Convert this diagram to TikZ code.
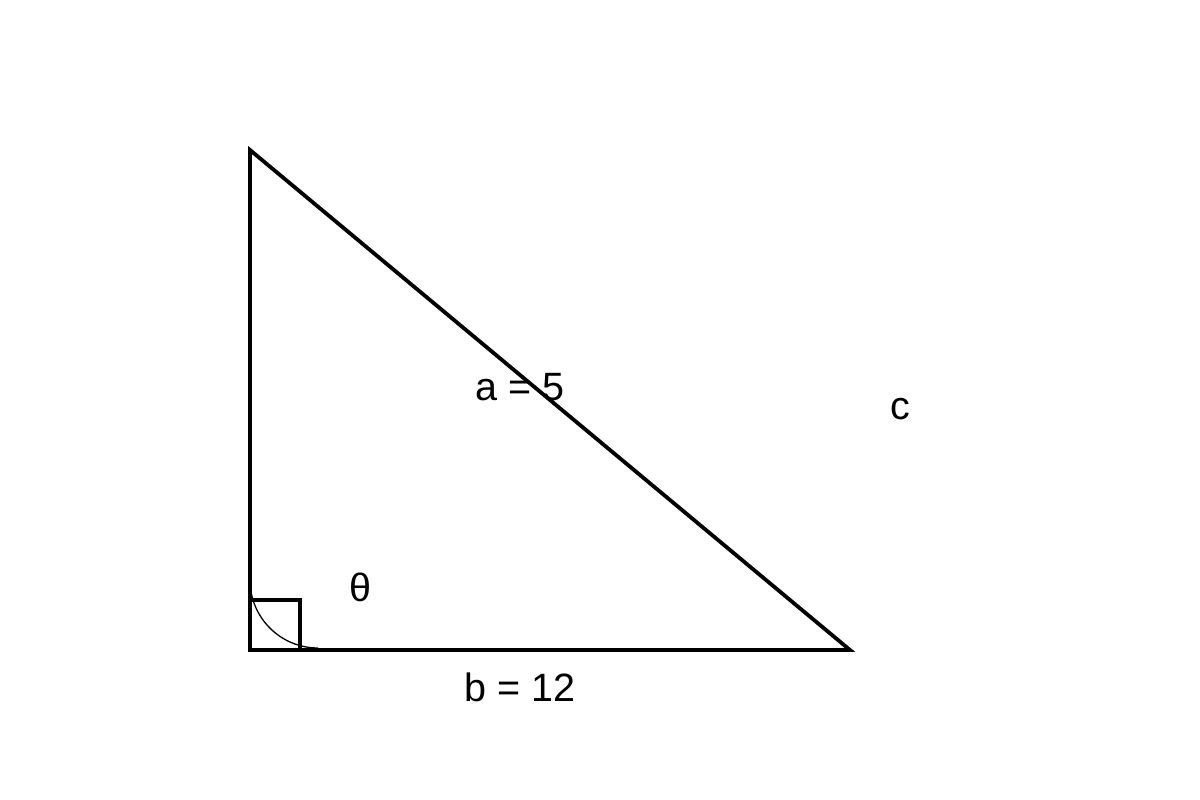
\documentclass[tikz,border=0pt]{standalone}
\usepackage{fontspec}
\setmainfont{Liberation Sans}
\usetikzlibrary{positioning}

\begin{document}
\begin{tikzpicture}[x=1pt,y=-1pt,line width=3.8pt,
   side label/.style={font=\fontsize{39.5}{47}\selectfont,inner sep=0pt}]
   \useasboundingbox (0,0) rectangle (1200,800);
   \coordinate (top)    at (250,150);
   \coordinate (corner) at (250,650);
   \coordinate (right)  at (850,650);
   \draw (top) -- (corner) -- (right) -- cycle;
   % right angle mark and angle arc
   \draw (corner) rectangle ++(50,-50);
   \draw[line width=1.3pt] (corner) ++(0,-70) arc[start angle=180,end angle=270,radius=68pt];
   \node[side label] (a_side)  at (520,387) {a = 5};
   \node[side label] (b_side)  at (520,687) {b = 12};
   \node[side label] (c_side)  at (900,409) {c};
   \node[side label] (theta)   at (360,587) {θ};
\end{tikzpicture}
\end{document}
